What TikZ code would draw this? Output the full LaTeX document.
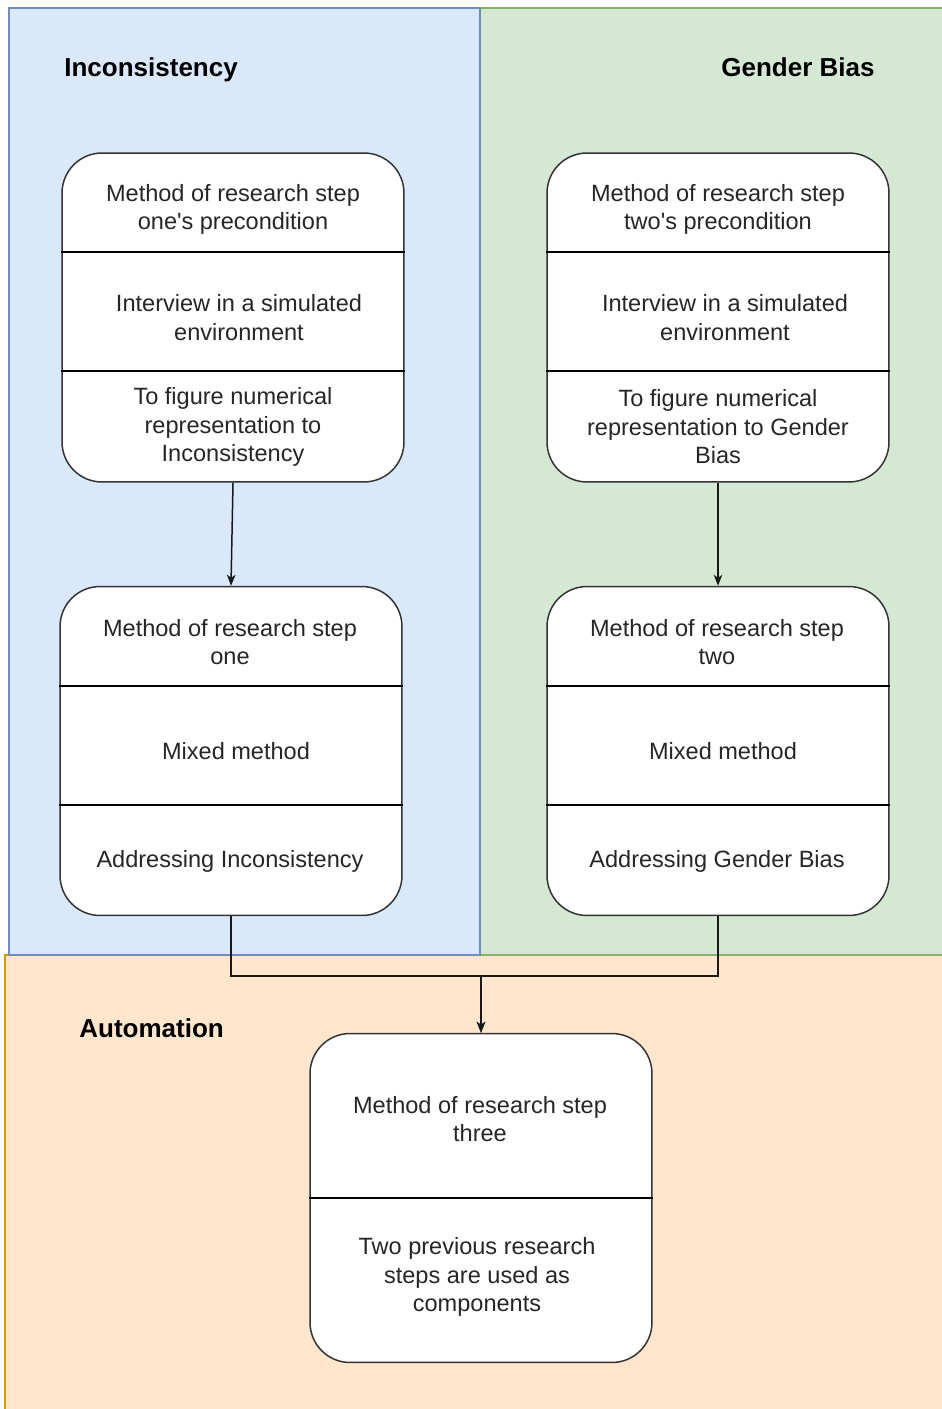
\documentclass[tikz,border=0pt]{standalone}
\usepackage{fontspec}
\setmainfont{Liberation Sans}
\usetikzlibrary{arrows.meta}
\definecolor{laneblue}{HTML}{DAE8FC}
\definecolor{laneblueedge}{HTML}{6C8EBF}
\definecolor{lanegreen}{HTML}{D5E8D4}
\definecolor{lanegreenedge}{HTML}{82B366}
\definecolor{laneorange}{HTML}{FFE6CC}
\definecolor{laneorangeedge}{HTML}{D79B00}
\definecolor{boxedge}{HTML}{333333}
\tikzset{
  stepbox/.style={draw=boxedge, fill=white, line width=0.85pt,
    rounded corners=0.8cm, minimum width=6.84cm, minimum height=6.58cm,
    inner sep=0pt},
  boxtext/.style={align=center, inner sep=0pt, text=black!85,
    font=\fontsize{13.4}{16.2}\selectfont},
  lanetitle/.style={anchor=base west, inner sep=0pt,
    font=\bfseries\fontsize{14.8}{17}\selectfont},
  divider/.style={line width=0.85pt, draw=black},
  laneline/.style={line width=0.6pt},
  arr/.style={line width=0.85pt, draw=black!90,
    -{Stealth[length=2.2mm, width=1.7mm, inset=0.6mm]}},
}
\begin{document}
\begin{tikzpicture}[x=0.02cm, y=-0.02cm]
  \useasboundingbox (0,0) rectangle (942,1409);
  \fill[white] (0,0) rectangle (942,1409);

  % swim lanes (right and bottom sides run off the page)
  \fill[laneorange] (5,955) rectangle (942,1409);
  \draw[laneline, laneorangeedge] (5,1409) -- (5,955) -- (942,955);
  \fill[laneblue] (9,8) rectangle (480,955);
  \fill[lanegreen] (480,8) rectangle (942,955);
  \draw[laneline, lanegreenedge] (480,8) -- (942,8);
  \draw[laneline, lanegreenedge] (480,955) -- (942,955);
  \draw[laneline, laneblueedge] (480,8) rectangle (9,955);

  \node[lanetitle] (tInc) at (64,77) {Inconsistency};
  \node[lanetitle] (tGen) at (721,77) {Gender Bias};
  \node[lanetitle] (tAut) at (79,1037) {Automation};

  % step boxes
  \node[stepbox] (b1) at (233,317.5) {};
  \node[stepbox] (b2) at (718,317.5) {};
  \node[stepbox] (b3) at (231,751) {};
  \node[stepbox] (b4) at (718,751) {};
  \node[stepbox] (b5) at (481,1198) {};

  % compartments
  \foreach \b/\ya/\yb in {b1/252/371, b2/252/371, b3/686/805, b4/686/805} {
    \draw[divider] (\b.west |- 0,\ya) -- (\b.east |- 0,\ya);
    \draw[divider] (\b.west |- 0,\yb) -- (\b.east |- 0,\yb);
  }
  \draw[divider] (b5.west |- 0,1198) -- (b5.east |- 0,1198);

  % texts
  \node[boxtext] (b1a) at (233,209.5) {Method of research step\\one\textquotesingle s precondition};
  \node[boxtext] (b1b) at (239,317.5) {Interview in a simulated\\environment};
  \node[boxtext] (b1c) at (233,427) {To figure numerical\\representation to\\Inconsistency};

  \node[boxtext] (b2a) at (718,209.5) {Method of research step\\two\textquotesingle s precondition};
  \node[boxtext] (b2b) at (725,317.5) {Interview in a simulated\\environment};
  \node[boxtext] (b2c) at (718,427) {To figure numerical\\representation to Gender\\Bias};

  \node[boxtext] (b3a) at (230,642) {Method of research step\\one};
  \node[boxtext] (b3b) at (236,751) {Mixed method};
  \node[boxtext] (b3c) at (230,861) {Addressing Inconsistency};

  \node[boxtext] (b4a) at (717,642) {Method of research step\\two};
  \node[boxtext] (b4b) at (723,751) {Mixed method};
  \node[boxtext] (b4c) at (717,861) {Addressing Gender Bias};

  \node[boxtext] (b5a) at (480,1119) {Method of research step\\three};
  \node[boxtext] (b5b) at (477,1277) {Two previous research\\steps are used as\\components};

  % connectors
  \draw[arr] (b1.south) -- (b3.north);
  \draw[arr] (b2.south) -- (b4.north);
  \draw[arr] (b3.south) -- ++(0,60) -| (b5.north);
  \draw[arr] (b4.south) -- ++(0,60) -| (b5.north);
\end{tikzpicture}
\end{document}
